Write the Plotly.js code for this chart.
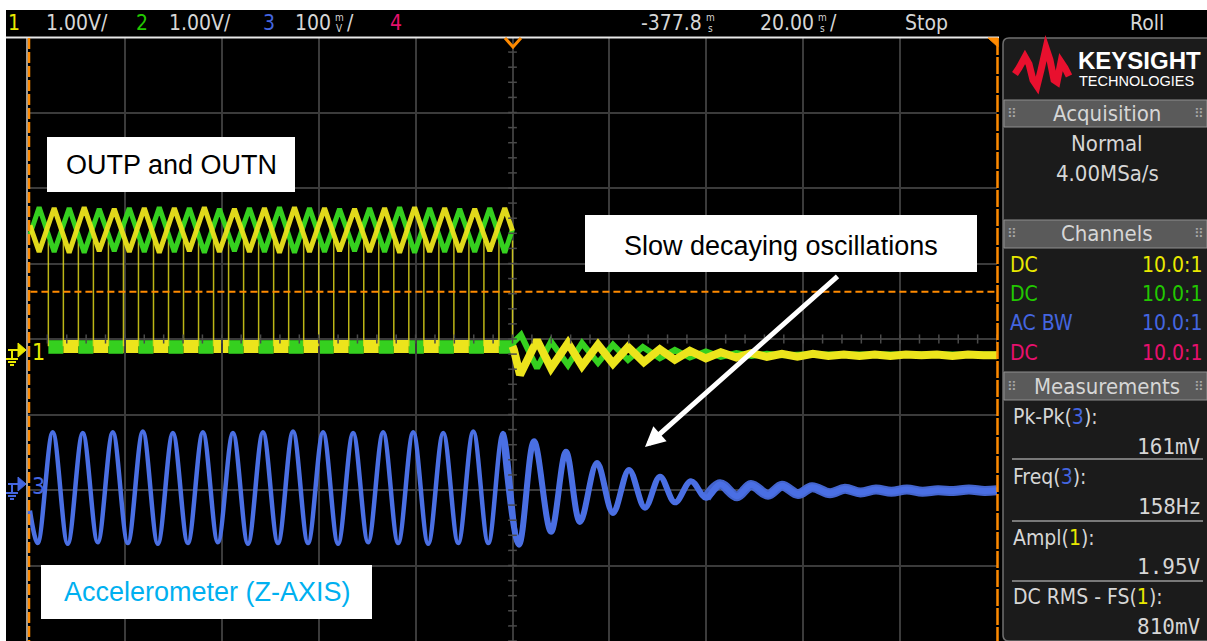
<!DOCTYPE html>
<html><head><meta charset="utf-8">
<script src="https://cdn.plot.ly/plotly-3.0.1.min.js"></script>
<style>html,body{margin:0;padding:0;background:#000;overflow:hidden}#chart{width:1207px;height:641px}</style>
</head><body><div id="chart"></div>
<script>
// ---------------- DATA (read from the screen) ----------------
// time in ms relative to the screen centre (20 ms/div)
// Channel 3 (accelerometer, mV): extremes of the waveform
const ch3T = [-99.6,
  -98.0,-94.9,-91.8,-88.7,-85.6,-82.5,-79.4,-76.3,-73.2,-70.1,-67.0,-63.9,-60.8,-57.7,-54.6,-51.5,
  -48.4,-45.3,-42.2,-39.1,-36.0,-32.9,-29.8,-26.7,-23.6,-20.5,-17.4,-14.3,-11.2,-8.1,-5.0,-1.96,
  1.34,4.44,7.95,11.04,13.93,17.44,20.74,24.05,27.35,30.44,33.54,36.84,39.94,42.83,46.34,49.23,52.74,55.63,58.93,61.82,65.53,
  68.6,71.8,75.0,78.2,81.4,84.6,87.8,91.0,94.2,97.4,100];
const ch3mV = [-30,
  -73,74,-74,73,-72,74,-73,75,-74,73,-73,74,-72,73,-74,74,
  -73,75,-73,74,-74,73,-72,74,-73,74,-74,73,-73,75,-73,73,
  -75,62,-58,48,-45,33,-33,24,-26,15,-19,9,-13,5,-11,4,-9,3,-8,1,-7,
  -1,-6,-2,-5,-2,-5,-3,-4,-2,-4,-3];

// Channels 1 & 2 (V) before the stop: triangle envelope of the high level
const triT = [-99.6,-97.7,-94.6,-91.5,-88.4,-85.3,-82.2,-79.1,-76.0,-72.9,-69.8,-66.7,-63.6,-60.5,-57.4,-54.3,-51.2,
  -48.1,-45.0,-41.9,-38.8,-35.7,-32.6,-29.5,-26.4,-23.3,-20.2,-17.1,-14.0,-10.9,-7.8,-4.7,-1.6,0];
const ch1Tri = [1.65,1.30,1.88,1.29,1.89,1.31,1.87,1.30,1.88,1.29,1.88,1.31,1.89,1.30,1.87,1.30,1.88,
  1.29,1.89,1.30,1.88,1.31,1.87,1.30,1.88,1.29,1.89,1.30,1.88,1.30,1.87,1.31,1.88,1.58];
const ch2Tri = [1.53,1.89,1.30,1.88,1.29,1.87,1.31,1.88,1.30,1.89,1.30,1.88,1.29,1.87,1.31,1.88,1.30,
  1.89,1.29,1.88,1.30,1.87,1.31,1.88,1.30,1.89,1.29,1.88,1.30,1.87,1.30,1.88,1.29,1.60];
// switching edges (ms) and levels (V)
const pwmEdges = [-95.8,-92.7,-89.6,-86.5,-83.4,-80.3,-77.2,-74.1,-71.0,-67.9,-64.8,-61.7,-58.6,-55.5,-52.4,-49.3,
  -46.2,-43.1,-40.0,-36.9,-33.8,-30.7,-27.6,-24.5,-21.4,-18.3,-15.2,-12.1,-9.0,-5.9,-2.8,0.0];
const ch1LowV = 0.05, ch2LowV = 0.04, edgeTopV = 1.45;
// after the stop: decaying oscillations
const ch1PostT = [0,0.3,1.55,5.06,7.95,11.45,14.35,17.65,20.74,23.84,27.1,30.4,33.5,36.6,39.9,43.0,46.2,49.3,52.5,55.6,
  58.8,62.0,65.2,68.4,71.6,74.8,78.0,81.2,84.4,87.6,90.8,94.0,97.2,100];
const ch1PostV = [0.05,0.0,-0.33,0.13,-0.24,0.09,-0.21,0.07,-0.18,0.04,-0.16,0.01,-0.13,-0.01,-0.11,-0.03,-0.10,-0.04,-0.09,-0.05,
  -0.09,-0.05,-0.08,-0.06,-0.08,-0.06,-0.08,-0.06,-0.07,-0.06,-0.08,-0.06,-0.07,-0.07];
const ch2PostT = [0,0.2,1.75,5.06,7.95,11.45,14.35,17.65,20.74,23.84,26.9,30.4,33.5,36.6,39.9,43.0,46.2,49.3,52.5,55.6,60,70,80,90,100];
const ch2PostV = [0.04,0.1,0.20,-0.24,0.11,-0.20,0.09,-0.17,0.07,-0.13,0.04,-0.11,0.0,-0.10,-0.02,-0.09,-0.04,-0.08,-0.05,-0.07,-0.06,-0.06,-0.06,-0.06,-0.06];
const triggerLevelV = 0.77;

// top bar + side panel texts
const topItems = ['1','1.00V/','2','1.00V/','3','100','4','-377.8','20.00','Stop','Roll'];
const chanCoupling = ['DC','DC','AC BW','DC'];
const chanProbe = ['10.0:1','10.0:1','10.0:1','10.0:1'];
const measLabels = ['Pk-Pk','Freq','Ampl','DC RMS - FS'];
const measSrc = ['3','3','1','1'];
const measValues = ['161mV','158Hz','1.95V','810mV'];

// ---------------- STYLE ----------------
const YEL='#ece41c', GRN='#35d01f', BLU='#4a6fe3', PNK='#e8106e', ORG='#ff8a00', TXT='#d6d6d6';
const YELT='#e9e900', GRNT='#22c800', BLUT='#4466e0';
const FN='Liberation Sans Narrow, DejaVu Sans Condensed, sans-serif';
const FA='Liberation Sans, Arial, sans-serif';
const FM='DejaVu Sans Mono, Liberation Mono, monospace';
const FS=21;
const L=28,R=997,T=37,B=641;
const PX=x=>(x-L)/(R-L), PY=y=>(B-y)/(B-T);

// channel 1/2 axis: ground at pixel 350 ; channel 3 ground at pixel 488
const divPx=(B-T)/8;
const y2lo=-(B-350)/divPx, y3lo=-(B-488)/divPx*100;
const bandHalf=0.09; // half thickness of the low-level band (V)

const traces=[];
// channel 3
traces.push({x:ch3T,y:ch3mV,yaxis:'y3',mode:'lines',line:{color:BLU,width:4.5,shape:'spline',smoothing:1}});
traces.push({x:ch3T.slice(32),y:ch3mV.slice(32),yaxis:'y3',mode:'lines',line:{color:BLU,width:6,shape:'spline',smoothing:1}});
traces.push({x:ch3T.slice(45),y:ch3mV.slice(45),yaxis:'y3',mode:'lines',opacity:0.9,line:{color:BLU,width:10,shape:'spline',smoothing:1}});
// channel 1/2 switching edges
const ex=[],ey=[];
pwmEdges.forEach(e=>{ex.push(e,e,null);ey.push(edgeTopV,ch1LowV,null);});
traces.push({x:ex,y:ey,yaxis:'y2',mode:'lines',opacity:0.8,line:{color:YEL,width:1.5}});
traces.push({x:triT,y:ch2Tri,yaxis:'y2',mode:'lines',line:{color:GRN,width:5}});
traces.push({x:triT,y:ch1Tri,yaxis:'y2',mode:'lines',opacity:0.95,line:{color:YEL,width:5}});
traces.push({x:ch2PostT,y:ch2PostV,yaxis:'y2',mode:'lines',line:{color:GRN,width:6}});
traces.push({x:ch1PostT,y:ch1PostV,yaxis:'y2',mode:'lines',line:{color:YEL,width:8}});

// ---------------- DECORATION ----------------
const shapes=[],ann=[];
// low-level band segments (data coordinates through the axes)
for(let i=0;i<pwmEdges.length-1;i++){
  const lv=(i%2===0)?ch2LowV:ch1LowV, col=(i%2===0)?GRN:YEL;
  shapes.push({type:'rect',xref:'x',yref:'y2',layer:'below',x0:pwmEdges[i],x1:pwmEdges[i+1],y0:lv-bandHalf,y1:lv+bandHalf,fillcolor:col,line:{width:0}});
}
const P=(x,y)=>PX(x)+','+PY(y);
function rect(x0,y0,x1,y1,fill,line,lw){shapes.push({type:'rect',xref:'paper',yref:'paper',x0:PX(x0),x1:PX(x1),y0:PY(y1),y1:PY(y0),fillcolor:fill,line:{color:line||fill,width:lw||0}});}
function seg(x0,y0,x1,y1,color,w,dash){shapes.push({type:'line',xref:'paper',yref:'paper',x0:PX(x0),x1:PX(x1),y0:PY(y0),y1:PY(y1),line:{color:color,width:w,dash:dash||'solid'}});}
function path(d,color,w,fill){shapes.push({type:'path',xref:'paper',yref:'paper',path:d,line:{color:color,width:w},fillcolor:fill||'rgba(0,0,0,0)'});}
function txt(x,y,text,size,color,anchor,family,extra){ann.push(Object.assign({xref:'paper',yref:'paper',x:PX(x),y:PY(y),text:text,showarrow:false,xanchor:anchor||'center',yanchor:'middle',font:{family:family||FN,size:size,color:color}},extra||{}));}

// centre-line minor ticks
for(let t=-100;t<=100.01;t+=4){shapes.push({type:'line',xref:'x',yref:'y',x0:t,x1:t,y0:-0.06,y1:0.06,line:{color:'#4a4a4a',width:1.5}});}
for(let v=-4;v<=4.01;v+=0.2){shapes.push({type:'line',xref:'x',yref:'y',x0:-0.9,x1:0.9,y0:v,y1:v,line:{color:'#4a4a4a',width:1.5}});}
// trigger level
shapes.push({type:'line',xref:'x',yref:'y2',x0:-99.5,x1:100,y0:triggerLevelV,y1:triggerLevelV,line:{color:ORG,width:2,dash:'7px,4px'}});
// borders
seg(6,37.5,999,37.5,'#e8e8e8',2);
seg(27,38,27,641,'#cfcfcf',1.5);
seg(29,38,29,641,ORG,2.5,'11px,3px');
seg(997.5,38,997.5,641,ORG,2.5,'17px,2px');
path('M'+P(505,38)+' L'+P(513,47)+' L'+P(521,38),ORG,3);
path('M'+P(988,38)+' L'+P(998,38)+' L'+P(998,47)+' Z',ORG,1,ORG);
// white outer border
rect(0,0,1207,10,'#ffffff');
rect(0,0,6,641,'#ffffff');

// channel ground markers
function marker(cy,color,label){
  path('M'+P(18,cy-7)+' L'+P(26,cy)+' L'+P(18,cy+7)+' Z',color,1,color);
  seg(8,cy,18,cy,color,2); seg(12,cy,12,cy+9,color,2);
  seg(6,cy+9,18,cy+9,color,2); seg(8,cy+12,16,cy+12,color,2); seg(10,cy+15,14,cy+15,color,2);
  txt(38,cy+2,label,23,color);
}
marker(350,YELT,'1');
marker(484,BLUT,'3');

// callout boxes
rect(47,137,295,192,'#ffffff');
rect(585,215,977,272,'#ffffff');
rect(41,565,372,619,'#ffffff');
txt(171,165,'OUTP and OUTN',27,'#000000','center',FA);
txt(781,246,'Slow decaying oscillations',27,'#000000','center',FA);
txt(207,592,'Accelerometer (Z-AXIS)',27,'#00b0f0','center',FA);
ann.push({xref:'paper',yref:'paper',x:PX(645),y:PY(447),ax:194,ay:-172,text:'',showarrow:true,arrowcolor:'#ffffff',arrowwidth:5,arrowhead:2,arrowsize:0.8,standoff:0});

// top bar
const TY=23;
txt(14,TY,topItems[0],FS,YELT);
txt(77,TY,topItems[1],FS,TXT);
txt(142,TY,topItems[2],FS,GRNT);
txt(200,TY,topItems[3],FS,TXT);
txt(269,TY,topItems[4],FS,BLUT);
txt(333,TY,topItems[5],FS,TXT,'right');
txt(339,17,'m',10,TXT); txt(339,29,'V',10,TXT); txt(350,TY,'/',FS,TXT);
txt(396,TY,topItems[6],FS,PNK);
txt(704,TY,topItems[7],FS,TXT,'right');
txt(710,17,'m',10,TXT); txt(710,29,'s',10,TXT);
txt(816,TY,topItems[8],FS,TXT,'right');
txt(822,17,'m',10,TXT); txt(822,29,'s',10,TXT); txt(833,TY,'/',FS,TXT);
txt(926,TY,topItems[9],FS,TXT);
txt(1147,TY,topItems[10],FS,TXT);

// side panel
path('M'+P(1212,38)+' L'+P(1009,38)+' Q'+P(1003,38)+' '+P(1003,44)+' L'+P(1003,635)+' Q'+P(1003,641)+' '+P(1009,641)+' L'+P(1212,641)+' Z','#707070',1.5,'#1b1b1b');
// logo
path('M'+P(1015,74)+' L'+P(1019,68)+' L'+P(1025,57)+' L'+P(1029,64)+' L'+P(1033,80)+' L'+P(1037,86)+' L'+P(1041,70)+' L'+P(1046,48)+' L'+P(1050,60)+' L'+P(1054,80)+' L'+P(1057,82)+' L'+P(1061,62)+' L'+P(1065,68)+' L'+P(1069,76),'#e8102e',7);
ann.push({xref:'paper',yref:'paper',x:PX(1076),y:PY(61),text:'KEYSIGHT',showarrow:false,xanchor:'left',yanchor:'middle',font:{family:FA,size:24,color:'#ffffff',weight:'bold'}});
txt(1077,81,'TECHNOLOGIES',14.5,'#ffffff','left',FA);
function header(y0,y1,label){
  rect(1004,y0,1207,y1,'#5a5a5a','#8e8e8e',1);
  txt(1107,(y0+y1)/2,label,FS+1,TXT);
  txt(1012,(y0+y1)/2,'⠿',13,'#a8a8a8','center','DejaVu Sans');
  txt(1199,(y0+y1)/2,'⠿',13,'#a8a8a8','center','DejaVu Sans');
}
header(100,127,'Acquisition');
txt(1107,143,'Normal',FS+1,TXT);
txt(1107,173,'4.00MSa/s',FS+1,TXT);
header(220,248,'Channels');
const chColors=[YELT,GRNT,BLUT,PNK], chY=[265,294,323,353];
for(let i=0;i<4;i++){txt(1008,chY[i],chanCoupling[i],FS,chColors[i],'left');txt(1204,chY[i],chanProbe[i],FS,chColors[i],'right');}
header(372,400,'Measurements');
const mLy=[417,477,538,597], mVy=[447,507,567,627], srcCol={'1':YELT,'3':BLUT};
for(let i=0;i<4;i++){
  txt(1011,mLy[i],measLabels[i]+'(<span style="color:'+srcCol[measSrc[i]]+'">'+measSrc[i]+'</span>):',FS,TXT,'left');
  txt(1203,mVy[i],measValues[i],21,TXT,'right',FM);
}
[459,521,581].forEach(y=>seg(1012,y,1203,y,'#9a9a9a',1.5));

const layout={
  width:1207,height:641,margin:{l:L,r:1207-R,t:T,b:0,pad:0},
  paper_bgcolor:'#000000',plot_bgcolor:'#000000',showlegend:false,hovermode:false,
  xaxis:{range:[-100,100],dtick:20,tick0:0,showgrid:true,gridcolor:'#3b3b3b',gridwidth:2,zeroline:false,showticklabels:false,ticks:'',showline:false,fixedrange:true},
  yaxis:{range:[-4,4],dtick:1,tick0:0,showgrid:true,gridcolor:'#3b3b3b',gridwidth:2,zeroline:false,showticklabels:false,ticks:'',showline:false,fixedrange:true},
  yaxis2:{overlaying:'y',range:[y2lo,y2lo+8],visible:false,fixedrange:true},
  yaxis3:{overlaying:'y',range:[y3lo,y3lo+800],visible:false,fixedrange:true},
  shapes:shapes,annotations:ann
};
Plotly.newPlot('chart',traces,layout,{staticPlot:true,displayModeBar:false});
</script></body></html>
